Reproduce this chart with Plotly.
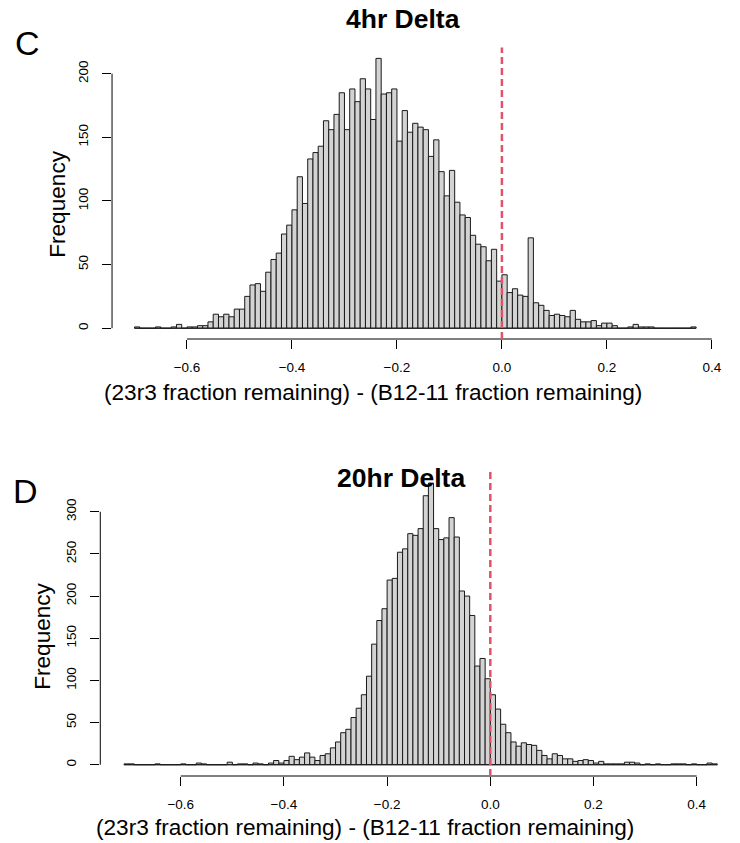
import plotly.graph_objects as go

# ---------------- data ----------------
bin_width = 0.01

# 4hr Delta: counts for bins starting at -0.70 (step 0.01) up to 0.36
top_first_edge = -0.70
top_counts = [
    1, 0, 0, 0, 1, 0, 0, 1, 3, 0,          # -0.70 .. -0.61
    1, 1, 2, 2, 5, 11, 9, 11, 9, 15,       # -0.60 .. -0.51
    15, 25, 34, 35, 29, 44, 54, 59, 74, 81,  # -0.50 .. -0.41
    93, 119, 98, 133, 138, 143, 163, 156, 168, 185,  # -0.40 .. -0.31
    156, 188, 178, 196, 188, 164, 212, 184, 185, 188,  # -0.30 .. -0.21
    147, 171, 154, 161, 158, 156, 135, 148, 123, 104,  # -0.20 .. -0.11
    124, 99, 89, 87, 73, 66, 64, 53, 62, 37,  # -0.10 .. -0.01
    42, 28, 31, 26, 25, 71, 20, 18, 14, 10,  # 0.00 .. 0.09
    11, 10, 9, 14, 7, 5, 5, 6, 2, 4,         # 0.10 .. 0.19
    4, 2, 0, 0, 1, 3, 1, 1, 1, 0,            # 0.20 .. 0.29
    0, 0, 0, 0, 0, 0, 1,                     # 0.30 .. 0.36
]

# 20hr Delta: counts for bins starting at -0.71 (step 0.01) up to 0.43
bot_first_edge = -0.71
bot_counts = [
    1, 1, 0, 0, 0, 0, 1, 0, 0, 0,            # -0.71 .. -0.62
    0, 1, 0, 0, 2, 1, 0, 0, 0, 0,            # -0.61 .. -0.52
    3, 0, 1, 1, 0, 2, 1, 0, 2, 5,            # -0.51 .. -0.42
    2, 5, 10, 6, 9, 14, 9, 5, 11, 13,        # -0.41 .. -0.32
    20, 27, 38, 42, 56, 67, 83, 105, 143, 171,  # -0.31 .. -0.22
    185, 219, 221, 252, 256, 274, 272, 280, 319, 334,  # -0.21 .. -0.12
    280, 267, 269, 293, 270, 206, 200, 177, 117, 126,  # -0.11 .. -0.02
    102, 83, 66, 48, 38, 27, 22, 26, 24, 23,  # -0.01 .. 0.08
    17, 11, 7, 13, 11, 7, 7, 4, 5, 6,         # 0.09 .. 0.18
    5, 2, 4, 1, 1, 1, 1, 3, 3, 2,             # 0.19 .. 0.28
    0, 1, 0, 1, 0, 0, 1, 1, 1, 0,             # 0.29 .. 0.38
    1, 0, 0, 2, 1,                            # 0.39 .. 0.43
]

x_tick_vals = [-0.6, -0.4, -0.2, 0.0, 0.2, 0.4]
x_tick_text = ["\u22120.6", "\u22120.4", "\u22120.2", "0.0", "0.2", "0.4"]
top_y_ticks = [0, 50, 100, 150, 200]
bot_y_ticks = [0, 50, 100, 150, 200, 250, 300]

title_top = "4hr Delta"
title_bot = "20hr Delta"
x_label = "(23r3 fraction remaining) - (B12-11 fraction remaining)"
y_label = "Frequency"

# ---------------- layout helpers ----------------
W, H = 740, 843
FONT = "Liberation Sans, Arial, Helvetica, sans-serif"
BAR_FILL = "#D3D3D3"
BAR_EDGE = "#1a1a1a"
RED = "#DF536B"


def px(xp):
    # page pixel -> paper fraction
    return xp / W


def py(yp):
    return 1 - yp / H


def edges(first, n):
    return [round(first + i * bin_width, 4) for i in range(n)]


top_lefts = edges(top_first_edge, len(top_counts))
bot_lefts = edges(bot_first_edge, len(bot_counts))

fig = go.Figure()

fig.add_trace(go.Bar(
    x=top_lefts, y=top_counts, width=bin_width, offset=0,
    marker=dict(color=BAR_FILL, line=dict(color=BAR_EDGE, width=1)),
    xaxis="x", yaxis="y", showlegend=False, hoverinfo="skip",
))
fig.add_trace(go.Bar(
    x=bot_lefts, y=bot_counts, width=bin_width, offset=0,
    marker=dict(color=BAR_FILL, line=dict(color=BAR_EDGE, width=1)),
    xaxis="x2", yaxis="y2", showlegend=False, hoverinfo="skip",
))

tick_font = dict(family=FONT, size=13.5, color="black")

common_x = dict(
    tickmode="array", tickvals=x_tick_vals, ticktext=x_tick_text,
    ticks="outside", ticklen=9, tickwidth=1, tickcolor="black",
    showline=False, showgrid=False, zeroline=False,
    tickfont=tick_font, ticklabelstandoff=7, fixedrange=True,
)
common_y = dict(
    ticks="outside", ticklen=9, tickwidth=1, tickcolor="black",
    showline=False, showgrid=False, zeroline=False,
    tickfont=tick_font, tickangle=-90, ticklabelstandoff=9, fixedrange=True,
)

top_max = max(top_counts)
bot_max = max(bot_counts)
top_span = len(top_counts) * bin_width
top_x_range = [top_first_edge - 0.04 * top_span,
               top_first_edge + top_span + 0.04 * top_span]
bot_x_lo = bot_first_edge - 0.04 * (len(bot_counts) * bin_width)

fig.update_layout(
    width=W, height=H, autosize=False,
    margin=dict(l=0, r=0, t=0, b=0),
    paper_bgcolor="white", plot_bgcolor="white",
    bargap=0, hovermode=False,
    xaxis=dict(domain=[px(112.5), px(721.5)], range=top_x_range, anchor="y", **common_x),
    yaxis=dict(domain=[py(339), py(47.6)], range=[-0.04 * top_max, 1.04 * top_max],
               tickvals=top_y_ticks, anchor="x", **common_y),
    xaxis2=dict(domain=[px(100.7), 1.0], range=[bot_x_lo, 0.4782], anchor="y2", **common_x),
    yaxis2=dict(domain=[py(776), py(471.8)], range=[-0.04 * bot_max, 1.04 * bot_max],
                tickvals=bot_y_ticks, anchor="x2", **common_y),
)

shapes = []
for xa, ya, first, counts, ymax_tick in (
    ("x", "y", top_first_edge, top_counts, top_y_ticks[-1]),
    ("x2", "y2", bot_first_edge, bot_counts, bot_y_ticks[-1]),
):
    # x axis line from first to last tick
    shapes.append(dict(type="line", xref=xa, yref=f"{ya} domain",
                       x0=x_tick_vals[0], x1=x_tick_vals[-1], y0=0, y1=0,
                       line=dict(color="black", width=1)))
    # y axis line from first to last tick
    shapes.append(dict(type="line", xref=f"{xa} domain", yref=ya,
                       x0=0, x1=0, y0=0, y1=ymax_tick,
                       line=dict(color="black", width=1)))
    # baseline of empty bins
    shapes.append(dict(type="line", xref=xa, yref=ya,
                       x0=first, x1=first + len(counts) * bin_width, y0=0, y1=0,
                       line=dict(color=BAR_EDGE, width=1)))
    # red dashed reference line at 0
    shapes.append(dict(type="line", xref=xa, yref=f"{ya} domain",
                       x0=0, x1=0, y0=0, y1=1,
                       line=dict(color=RED, width=2.5, dash="7px,4px")))
fig.update_layout(shapes=shapes)


def ann(text, xp, yp, size, bold=False, angle=0):
    return dict(text=f"<b>{text}</b>" if bold else text,
                x=px(xp), y=py(yp), xref="paper", yref="paper",
                xanchor="center", yanchor="middle", showarrow=False,
                textangle=angle, font=dict(family=FONT, size=size, color="black"))


fig.update_layout(annotations=[
    ann("C", 28, 43, 34),
    ann(title_top, 405, 19, 26.5, bold=True),
    ann(y_label, 57, 204, 22.6, angle=-90),
    ann(x_label, 375, 392, 22.6),
    ann("D", 26, 491, 34),
    ann(title_bot, 403, 478, 26.5, bold=True),
    ann(y_label, 42, 636, 22.6, angle=-90),
    ann(x_label, 366, 827, 22.6),
])

fig.write_html(
    "out.html",
    config={"displayModeBar": False, "staticPlot": True},
    post_script="document.body.style.margin='0';document.body.style.overflow='hidden';",
)
